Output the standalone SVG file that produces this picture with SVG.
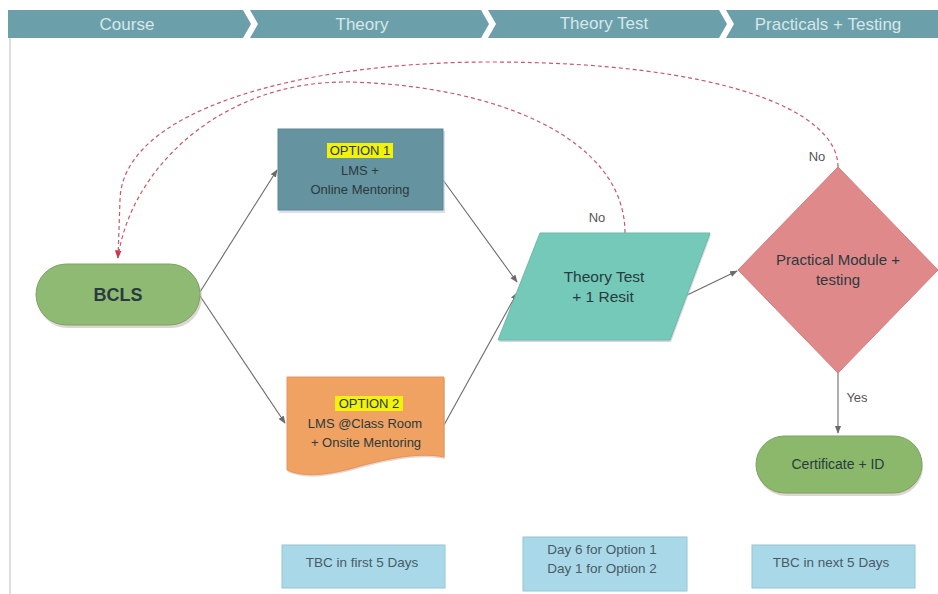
<svg xmlns="http://www.w3.org/2000/svg" width="938" height="594" viewBox="0 0 938 594">
<style>
.hdr{fill:#d6e8eb;font-family:"Liberation Sans",Arial,sans-serif;font-size:17px;text-anchor:middle}
.t{font-family:"Liberation Sans",Arial,sans-serif;text-anchor:middle;fill:#2a3a3e}
.c{fill:none;stroke:#6a6a6a;stroke-width:1.1}
.d{fill:none;stroke:#c45a6e;stroke-width:1.2;stroke-dasharray:4 3}
.lbl{font-family:"Liberation Sans",Arial,sans-serif;font-size:13px;fill:#555;text-anchor:middle}
.note{fill:#a9d9e8;stroke:#93c6d6;stroke-width:1}
.nt{font-family:"Liberation Sans",Arial,sans-serif;text-anchor:middle;fill:#4a5a66;font-size:13.5px}
</style>
<defs>
<marker id="ah" viewBox="0 0 10 10" refX="9" refY="5" markerWidth="7" markerHeight="7" orient="auto-start-reverse"><path d="M0,1 L10,5 L0,9 Z" fill="#6a6a6a"/></marker>
<marker id="ar" viewBox="0 0 10 10" refX="9" refY="5" markerWidth="7" markerHeight="7" orient="auto-start-reverse"><path d="M0,1 L10,5 L0,9 Z" fill="#d0304a"/></marker>
</defs>
<rect width="938" height="594" fill="#ffffff"/>
<line x1="10" y1="38" x2="10" y2="594" stroke="#c8c8c8" stroke-width="1.2"/>
<g id="header">
<rect x="8" y="10" width="930" height="28" fill="#6b9fa9"/>
<polygon points="243,10 250,10 258,24 250,38 243,38 251,24" fill="#ffffff"/>
<polygon points="481,10 488,10 496,24 488,38 481,38 489,24" fill="#ffffff"/>
<polygon points="719,10 726,10 734,24 726,38 719,38 727,24" fill="#ffffff"/>
<text class="hdr" x="127" y="30">Course</text>
<text class="hdr" x="362" y="30">Theory</text>
<text class="hdr" x="604" y="29">Theory Test</text>
<text class="hdr" x="828" y="30">Practicals + Testing</text>
</g>
<g id="connectors">
<line class="c" x1="200" y1="292" x2="277" y2="170" marker-end="url(#ah)"/>
<line class="c" x1="200" y1="296" x2="285" y2="423" marker-end="url(#ah)"/>
<line class="c" x1="443" y1="180" x2="517" y2="282" marker-end="url(#ah)"/>
<line class="c" x1="444" y1="425" x2="517" y2="293" marker-end="url(#ah)"/>
<line class="c" x1="683" y1="297" x2="737" y2="271" marker-end="url(#ah)"/>
<line class="c" x1="838" y1="372" x2="838" y2="433" marker-end="url(#ah)"/>
<path class="d" d="M838,167 C838,110 720,62 490,62 C300,62 122,110 120,200 L118,258" marker-end="url(#ar)"/>
<path class="d" d="M625,233 C625,140 500,86 350,82 C220,80 130,170 118,258"/>
<text class="lbl" x="597" y="222">No</text>
<text class="lbl" x="817" y="161">No</text>
<text class="lbl" x="857" y="402">Yes</text>
</g>
<g id="bcls">
<rect x="37" y="266" width="165" height="62" rx="31" fill="#c9b8b8" opacity="0.6"/>
<rect x="36" y="264" width="164" height="61" rx="30.5" fill="#8fba73" stroke="#7aa35f" stroke-width="1"/>
<text class="t" x="118" y="301" font-size="18" font-weight="bold" fill="#1e2e1e">BCLS</text>
</g>
<g id="option1">
<rect x="279" y="131" width="166" height="82" fill="#c8c8d8" opacity="0.6"/>
<rect x="278" y="129" width="165" height="81" fill="#6693a0" stroke="#5a8794" stroke-width="1"/>
<rect x="327" y="143" width="66" height="15" fill="#f2f20a"/>
<text class="t" x="360" y="155" font-size="13" fill="#1e3040">OPTION 1</text>
<text class="t" x="360" y="175" font-size="13" fill="#1e3040">LMS +</text>
<text class="t" x="360" y="194" font-size="13" fill="#1e3040">Online Mentoring</text>
</g>
<g id="option2">
<path d="M288,379 H445 V459 C420,454 390,460 360,468 C330,477 305,480 288,472 Z" fill="#d8b8b0" opacity="0.6"/>
<path d="M287,377 H444 V457 C420,452 390,458 360,466 C330,475 305,478 287,470 Z" fill="#f0a262" stroke="#e3955a" stroke-width="1"/>
<rect x="335" y="396" width="68" height="15" fill="#f2f20a"/>
<text class="t" x="369" y="408" font-size="13" fill="#3a2a1e">OPTION 2</text>
<text class="t" x="365" y="428" font-size="13" fill="#3a2a1e">LMS @Class Room</text>
<text class="t" x="366" y="447" font-size="13" fill="#3a2a1e">+ Onsite Mentoring</text>
</g>
<g id="theorytest">
<polygon points="541,235 711,235 671,342 499,342" fill="#c8b8c8" opacity="0.6"/>
<polygon points="540,233 710,233 670,340 498,340" fill="#74c9b8" stroke="#66bba9" stroke-width="1"/>
<text class="t" x="604" y="282" font-size="15.5" fill="#1f4a45">Theory Test</text>
<text class="t" x="603" y="302" font-size="15.5" fill="#1f4a45">+ 1 Resit</text>
</g>
<g id="practical">
<polygon points="838,167 938,270 838,373 738,270" fill="#e0898a" stroke="#d27c7d" stroke-width="1"/>
<text class="t" x="838" y="265" font-size="15" fill="#4a2424">Practical Module +</text>
<text class="t" x="838" y="285" font-size="15" fill="#4a2424">testing</text>
</g>
<g id="certificate">
<rect x="757" y="438" width="166" height="58" rx="29" fill="#c9b8b8" opacity="0.6"/>
<rect x="756" y="436" width="166" height="57" rx="28.5" fill="#8cb86c" stroke="#7aa35f" stroke-width="1"/>
<text class="t" x="838" y="469" font-size="14" fill="#2e4a22">Certificate + ID</text>
</g>
<g id="note1">
<rect class="note" x="282" y="545" width="163" height="43"/>
<text class="nt" x="362" y="567">TBC in first 5 Days</text>
</g>
<g id="note2">
<rect class="note" x="523" y="537" width="164" height="54"/>
<text class="nt" x="602" y="554">Day 6 for Option 1</text>
<text class="nt" x="602" y="573">Day 1 for Option 2</text>
</g>
<g id="note3">
<rect class="note" x="752" y="545" width="163" height="43"/>
<text class="nt" x="831" y="567">TBC in next 5 Days</text>
</g>
</svg>
